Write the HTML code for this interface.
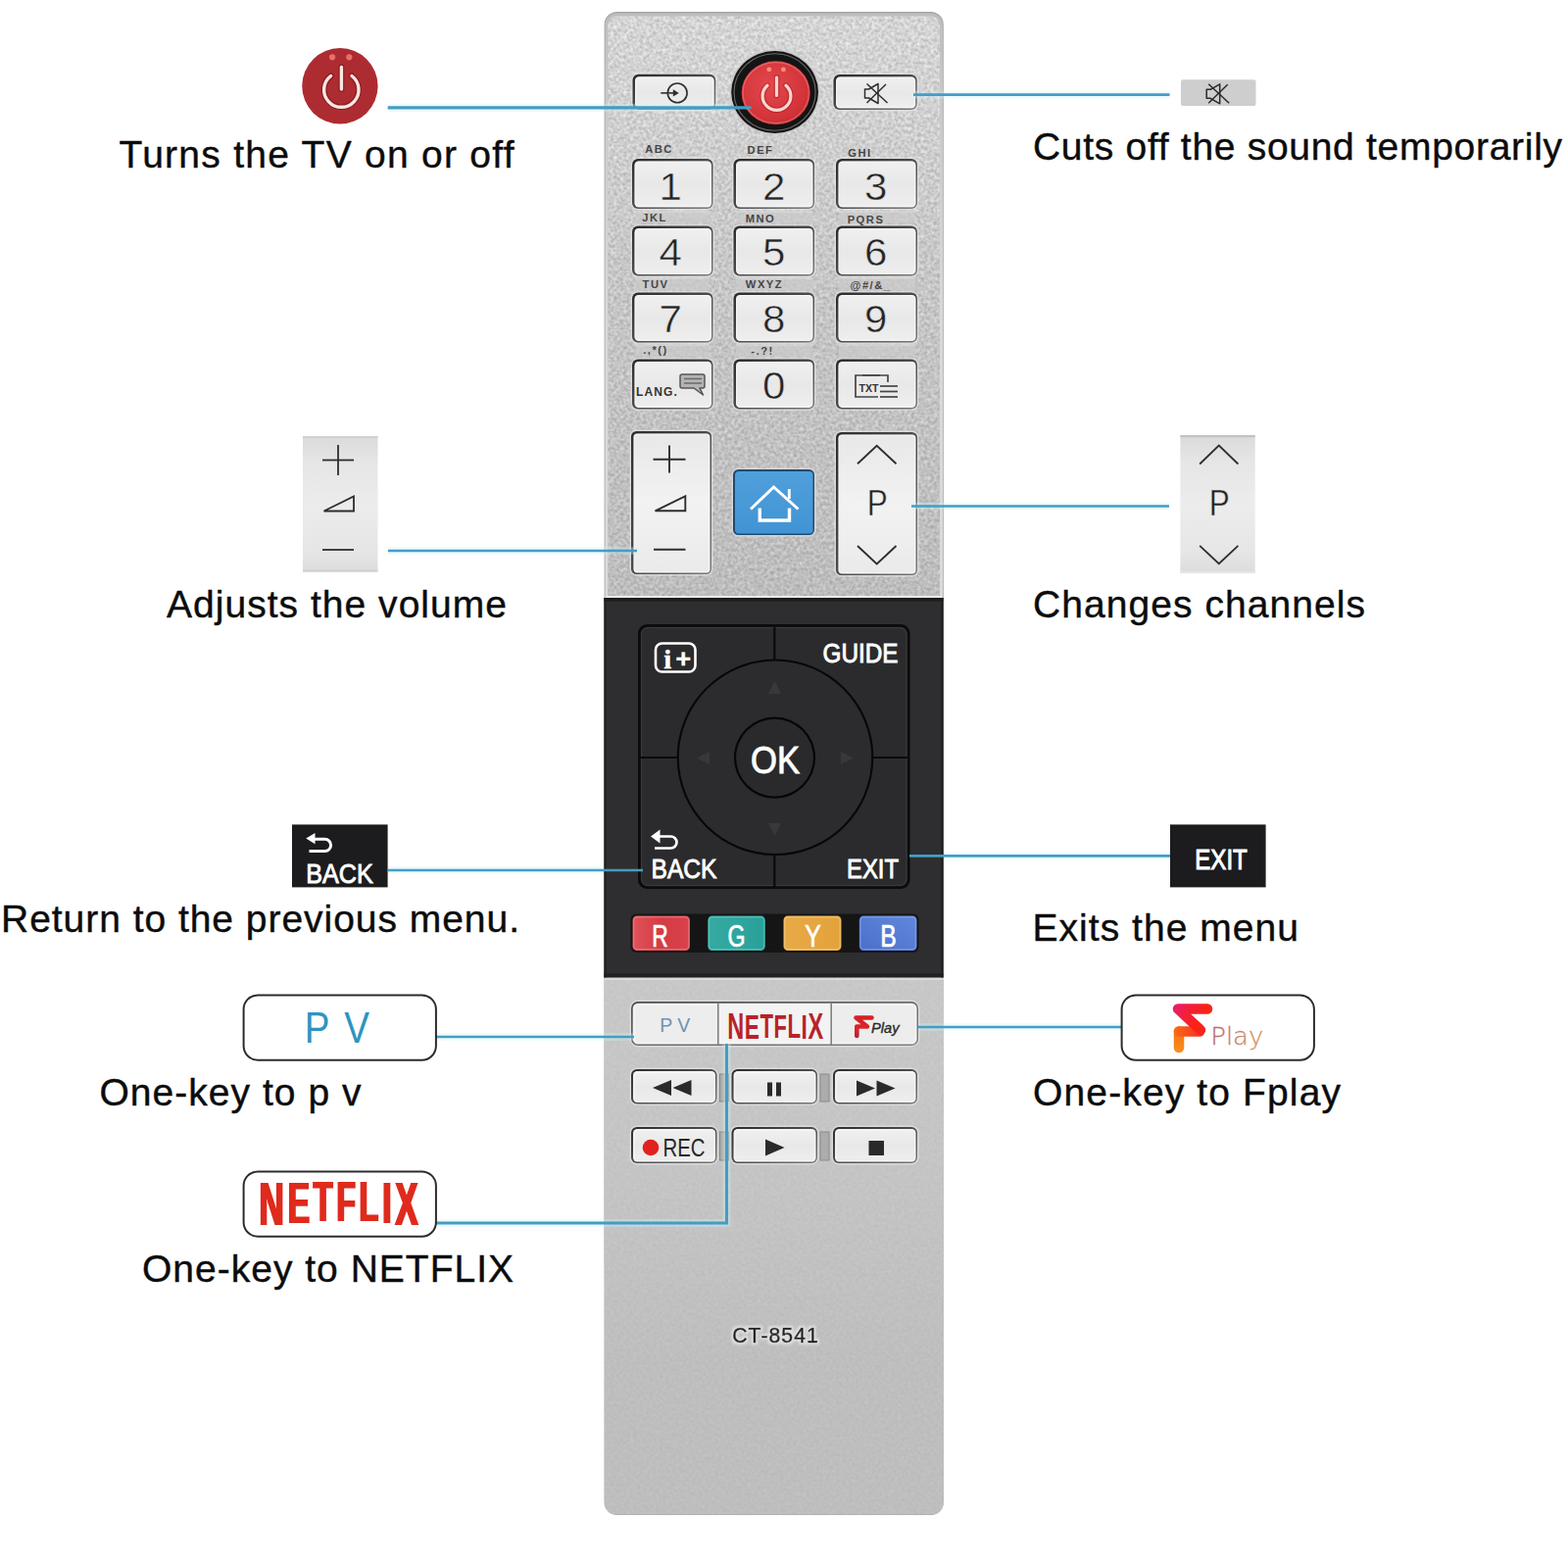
<!DOCTYPE html>
<html lang="en">
<head>
<meta charset="utf-8">
<title>CT-8541 Remote Control</title>
<style>
html,body{margin:0;padding:0;background:#fff;}
body{width:1600px;height:1600px;overflow:hidden;font-family:"Liberation Sans",sans-serif;}
svg{display:block;}
text{font-family:"Liberation Sans",sans-serif;}
.ann{font-size:39px;fill:#0c0c0c;stroke:#0c0c0c;stroke-width:0.4px;}
.ln{stroke:#469cc2;fill:none;}
.lh{stroke:#c9f4fd;fill:none;opacity:.35;}
.dig{font-size:38.8px;fill:#242424;text-anchor:middle;stroke:#eaeaea;stroke-width:0.5px;}
.sub{font-size:11.2px;font-weight:bold;fill:#454545;text-anchor:middle;letter-spacing:1.5px;}
.wht{font-weight:bold;fill:#fff;}
</style>
</head>
<body>
<svg width="1600" height="1600" viewBox="0 0 1600 1600">
<defs>
<linearGradient id="gKey" x1="0" y1="0" x2="0" y2="1">
<stop offset="0" stop-color="#f0f0f0"/><stop offset="0.5" stop-color="#e8e8e8"/><stop offset="1" stop-color="#eeeeee"/>
</linearGradient>
<linearGradient id="gKeyB" x1="0" y1="0" x2="1" y2="1">
<stop offset="0" stop-color="#2c2c2c"/><stop offset="0.5" stop-color="#4c4c4c"/><stop offset="1" stop-color="#7a7a7a"/>
</linearGradient>
<linearGradient id="gBody" x1="0" y1="0" x2="0" y2="1">
<stop offset="0" stop-color="#000" stop-opacity="0"/><stop offset="0.15" stop-color="#000" stop-opacity="0.02"/><stop offset="0.45" stop-color="#000" stop-opacity="0.07"/><stop offset="1" stop-color="#000" stop-opacity="0.115"/>
</linearGradient>
<filter id="noise" x="0" y="0" width="100%" height="100%" color-interpolation-filters="sRGB">
<feTurbulence type="fractalNoise" baseFrequency="0.3" numOctaves="2" seed="7" result="n"/>
<feColorMatrix in="n" type="matrix" values="0.32 0 0 0 0.675  0.32 0 0 0 0.675  0.32 0 0 0 0.675  0 0 0 0 1"/>
<feComposite in2="SourceGraphic" operator="in"/>
</filter>
<filter id="noiseD" x="0" y="0" width="100%" height="100%" color-interpolation-filters="sRGB">
<feTurbulence type="fractalNoise" baseFrequency="0.3" numOctaves="2" seed="21" result="n"/>
<feColorMatrix in="n" type="matrix" values="0.06 0 0 0 0.715  0.06 0 0 0 0.715  0.06 0 0 0 0.715  0 0 0 0 1"/>
<feComposite in2="SourceGraphic" operator="in"/>
</filter>
<filter id="soft" x="-5%" y="-5%" width="110%" height="110%"><feGaussianBlur stdDeviation="0.6"/></filter>

<linearGradient id="gR" x1="0" y1="0" x2="1" y2="0"><stop offset="0" stop-color="#e0525a"/><stop offset="0.5" stop-color="#d63b44"/><stop offset="1" stop-color="#d8424b"/></linearGradient>
<linearGradient id="gG" x1="0" y1="0" x2="1" y2="0"><stop offset="0" stop-color="#35aaa3"/><stop offset="1" stop-color="#28a199"/></linearGradient>
<linearGradient id="gY" x1="0" y1="0" x2="1" y2="0"><stop offset="0" stop-color="#e8aa48"/><stop offset="1" stop-color="#e3a23a"/></linearGradient>
<linearGradient id="gB" x1="0" y1="1" x2="1" y2="0"><stop offset="0" stop-color="#4a6fcb"/><stop offset="1" stop-color="#6188dc"/></linearGradient>
<filter id="fat" x="-5%" y="-10%" width="110%" height="120%"><feMorphology operator="dilate" radius="0.9 0"/></filter>
<linearGradient id="gKeyL" x1="0" y1="0" x2="1" y2="1"><stop offset="0" stop-color="#4a4a4a"/><stop offset="0.5" stop-color="#6a6a6a"/><stop offset="1" stop-color="#808080"/></linearGradient>
<linearGradient id="gEdge" x1="0" y1="0" x2="0" y2="1"><stop offset="0" stop-color="#dcdcdc" stop-opacity="0"/><stop offset="0.6" stop-color="#dcdcdc" stop-opacity="0.75"/><stop offset="1" stop-color="#dcdcdc" stop-opacity="0.8"/></linearGradient>
<filter id="glow" x="-10%" y="-40%" width="120%" height="180%"><feMorphology in="SourceAlpha" operator="dilate" radius="1.6" result="d"/><feGaussianBlur in="d" stdDeviation="0.9" result="b"/><feFlood flood-color="#e6e6e6" flood-opacity="0.8"/><feComposite in2="b" operator="in" result="g"/><feMerge><feMergeNode in="g"/><feMergeNode in="SourceGraphic"/></feMerge></filter>
<linearGradient id="gBevel" gradientUnits="userSpaceOnUse" x1="0" y1="12" x2="0" y2="620"><stop offset="0" stop-color="#bdbdbd"/><stop offset="0.15" stop-color="#c8c8c8"/><stop offset="0.5" stop-color="#d8d8d8"/><stop offset="1" stop-color="#dadada"/></linearGradient>
<linearGradient id="gLowHi" x1="0" y1="0" x2="0" y2="1"><stop offset="0" stop-color="#fff" stop-opacity="0.15"/><stop offset="0.5" stop-color="#fff" stop-opacity="0.1"/><stop offset="1" stop-color="#fff" stop-opacity="0"/></linearGradient>
<linearGradient id="gKeyT" x1="0" y1="0" x2="0" y2="1"><stop offset="0" stop-color="#e8e8e8"/><stop offset="0.5" stop-color="#f2f2f2"/><stop offset="1" stop-color="#eaeaea"/></linearGradient>
<radialGradient id="gPow" cx="0.42" cy="0.4" r="0.75"><stop offset="0" stop-color="#e3484c"/><stop offset="0.7" stop-color="#d23339"/><stop offset="1" stop-color="#b82228"/></radialGradient>
<linearGradient id="gHome" x1="0" y1="0" x2="0" y2="1"><stop offset="0" stop-color="#4f9fdb"/><stop offset="1" stop-color="#4194d4"/></linearGradient>
<linearGradient id="gIcon" x1="0" y1="0" x2="0" y2="1"><stop offset="0" stop-color="#dadada"/><stop offset="0.2" stop-color="#e6e6e6"/><stop offset="0.5" stop-color="#ececec"/><stop offset="0.85" stop-color="#e6e6e6"/><stop offset="1" stop-color="#dcdcdc"/></linearGradient>
<linearGradient id="gFs" gradientUnits="userSpaceOnUse" x1="880" y1="1036" x2="880" y2="1060"><stop offset="0" stop-color="#d81e22"/><stop offset="0.6" stop-color="#d8262c"/><stop offset="1" stop-color="#b01d3a"/></linearGradient>
<linearGradient id="gF1" gradientUnits="userSpaceOnUse" x1="1197" y1="1024" x2="1237" y2="1050"><stop offset="0" stop-color="#e81e78"/><stop offset="0.35" stop-color="#f2203a"/><stop offset="0.7" stop-color="#fb2312"/><stop offset="1" stop-color="#f2272c"/></linearGradient>
<linearGradient id="gF2" gradientUnits="userSpaceOnUse" x1="1203" y1="1047" x2="1203" y2="1075"><stop offset="0" stop-color="#fb6a12"/><stop offset="1" stop-color="#f6921e"/></linearGradient>
<linearGradient id="gF3" gradientUnits="userSpaceOnUse" x1="1198" y1="1052" x2="1230" y2="1052"><stop offset="0" stop-color="#fb6a12"/><stop offset="1" stop-color="#f2272c"/></linearGradient>
<linearGradient id="gPlay" gradientUnits="userSpaceOnUse" x1="1236" y1="1050" x2="1290" y2="1070"><stop offset="0" stop-color="#b96a72"/><stop offset="1" stop-color="#d9a066"/></linearGradient>
</defs>
<rect width="1600" height="1600" fill="#ffffff"/>

<g id="remote-body">
<rect x="616.6" y="12" width="346.2" height="1534" rx="13" fill="#a6a6a6"/>
<rect x="617.4" y="13.4" width="344.6" height="1531.4" rx="12" fill="url(#gBevel)"/>
<rect x="620.3" y="16.5" width="338.7" height="600" rx="9" fill="#d3d3d3" filter="url(#noise)"/>
<rect x="620.3" y="16.5" width="338.7" height="600" rx="9" fill="url(#gBody)"/>
<rect x="616.8" y="990" width="346" height="300" fill="#bebebe"/>
<rect x="616.8" y="990" width="346" height="555.5" rx="12" fill="#bebebe" filter="url(#noiseD)"/>
<rect x="616.8" y="990" width="346" height="300" fill="#bebebe" filter="url(#noiseD)"/>
<rect x="616.8" y="997" width="346" height="400" fill="url(#gLowHi)"/>
<rect x="616.8" y="997.5" width="346" height="2.5" fill="#dadada"/>
</g>

<g id="keys">
<rect x="648" y="215.5" width="76" height="13" fill="#cbcbcb" opacity="0.7"/><rect x="648" y="215.5" width="76" height="1" fill="#e2e2e2" opacity="0.8"/><rect x="648" y="283.5" width="76" height="13" fill="#cbcbcb" opacity="0.7"/><rect x="648" y="283.5" width="76" height="1" fill="#e2e2e2" opacity="0.8"/><rect x="648" y="351.5" width="76" height="13" fill="#cbcbcb" opacity="0.7"/><rect x="648" y="351.5" width="76" height="1" fill="#e2e2e2" opacity="0.8"/><rect x="751" y="215.5" width="78" height="13" fill="#cbcbcb" opacity="0.7"/><rect x="751" y="215.5" width="78" height="1" fill="#e2e2e2" opacity="0.8"/><rect x="751" y="283.5" width="78" height="13" fill="#cbcbcb" opacity="0.7"/><rect x="751" y="283.5" width="78" height="1" fill="#e2e2e2" opacity="0.8"/><rect x="751" y="351.5" width="78" height="13" fill="#cbcbcb" opacity="0.7"/><rect x="751" y="351.5" width="78" height="1" fill="#e2e2e2" opacity="0.8"/><rect x="856" y="215.5" width="78" height="13" fill="#cbcbcb" opacity="0.7"/><rect x="856" y="215.5" width="78" height="1" fill="#e2e2e2" opacity="0.8"/><rect x="856" y="283.5" width="78" height="13" fill="#cbcbcb" opacity="0.7"/><rect x="856" y="283.5" width="78" height="1" fill="#e2e2e2" opacity="0.8"/><rect x="856" y="351.5" width="78" height="13" fill="#cbcbcb" opacity="0.7"/><rect x="856" y="351.5" width="78" height="1" fill="#e2e2e2" opacity="0.8"/>
<rect x="644.0" y="74.3" width="87.7" height="39" rx="7.5" fill="#e4e4e4" opacity="0.7"/><rect x="645.5" y="75.8" width="84.7" height="36" rx="6" fill="url(#gKeyB)"/><rect x="648.0" y="78.3" width="80.7" height="32.0" rx="4.2" fill="url(#gKey)"/><rect x="648.7" y="79.0" width="79.0" height="30.3" rx="3.5" fill="none" stroke="#ffffff" stroke-opacity="0.5" stroke-width="1.2"/>
<rect x="849.0" y="74.5" width="88.2" height="39" rx="7.5" fill="#e4e4e4" opacity="0.7"/><rect x="850.5" y="76" width="85.2" height="36" rx="6" fill="url(#gKeyB)"/><rect x="853.0" y="78.5" width="81.2" height="32.0" rx="4.2" fill="url(#gKey)"/><rect x="853.7" y="79.2" width="79.5" height="30.3" rx="3.5" fill="none" stroke="#ffffff" stroke-opacity="0.5" stroke-width="1.2"/>
<g stroke="#2e2e2e" stroke-width="1.6" fill="none"><circle cx="691.2" cy="94.9" r="9.9"/><line x1="674.3" y1="94.9" x2="689" y2="94.9"/><path d="M686.8 91.2 L692.8 94.9 L686.8 98.6 Z" fill="#2e2e2e" stroke="none"/></g>
<g stroke="#2e2e2e" stroke-width="1.5" fill="none" stroke-linejoin="round"><path d="M882.5 91 h4 l9.5 -5.5 v20 l-9.5 -5.5 h-4 z"/><line x1="884.5" y1="85.5" x2="905.5" y2="105"/><line x1="904" y1="86" x2="884.5" y2="105"/></g>
<g id="power-key"><ellipse cx="790.6" cy="94" rx="46" ry="43.6" fill="#c8c8c8"/><ellipse cx="790.6" cy="94" rx="44.4" ry="42" fill="#141414"/><ellipse cx="790.6" cy="94" rx="41.6" ry="39.2" fill="none" stroke="#6a6a6a" stroke-width="1.1"/><ellipse cx="791.7" cy="94.7" rx="35.1" ry="32.5" fill="url(#gPow)"/><ellipse cx="791.7" cy="94.7" rx="33.6" ry="31" fill="none" stroke="#f08a86" stroke-width="1.2" opacity="0.55"/>
<circle cx="784.8" cy="70.9" r="2.4" fill="#ff8a7c"/><circle cx="799.4" cy="70.9" r="2.4" fill="#ff8a7c"/>
<path d="M783 87.2 A14.4 14.4 0 1 0 802 87.2" fill="none" stroke="#a01a20" stroke-width="5.8" stroke-linecap="round" opacity="0.45"/><line x1="792.5" y1="79" x2="792.5" y2="97.5" stroke="#a01a20" stroke-width="5.8" stroke-linecap="round" opacity="0.45"/>
<path d="M783 87.2 A14.4 14.4 0 1 0 802 87.2" fill="none" stroke="#ffd6d0" stroke-width="3.2" stroke-linecap="round"/><line x1="792.5" y1="79" x2="792.5" y2="97.5" stroke="#ffd6d0" stroke-width="3.2" stroke-linecap="round"/></g>
<rect x="643.5" y="160.5" width="85.5" height="54" rx="7.5" fill="#e4e4e4" opacity="0.7"/><rect x="645" y="162" width="82.5" height="51" rx="6" fill="url(#gKeyB)"/><rect x="647.5" y="164.5" width="78.5" height="47.0" rx="4.2" fill="url(#gKey)"/><rect x="648.2" y="165.2" width="76.8" height="45.3" rx="3.5" fill="none" stroke="#ffffff" stroke-opacity="0.5" stroke-width="1.2"/>
<text class="dig" x="684.3" y="203.9" textLength="23.4" lengthAdjust="spacingAndGlyphs">1</text>
<rect x="747.0" y="160.5" width="85.5" height="54" rx="7.5" fill="#e4e4e4" opacity="0.7"/><rect x="748.5" y="162" width="82.5" height="51" rx="6" fill="url(#gKeyB)"/><rect x="751.0" y="164.5" width="78.5" height="47.0" rx="4.2" fill="url(#gKey)"/><rect x="751.7" y="165.2" width="76.8" height="45.3" rx="3.5" fill="none" stroke="#ffffff" stroke-opacity="0.5" stroke-width="1.2"/>
<text class="dig" x="789.7" y="203.9" textLength="23.4" lengthAdjust="spacingAndGlyphs">2</text>
<rect x="851.5" y="160.5" width="86" height="54" rx="7.5" fill="#e4e4e4" opacity="0.7"/><rect x="853" y="162" width="83" height="51" rx="6" fill="url(#gKeyB)"/><rect x="855.5" y="164.5" width="79.0" height="47.0" rx="4.2" fill="url(#gKey)"/><rect x="856.2" y="165.2" width="77.3" height="45.3" rx="3.5" fill="none" stroke="#ffffff" stroke-opacity="0.5" stroke-width="1.2"/>
<text class="dig" x="893.8" y="203.9" textLength="23.4" lengthAdjust="spacingAndGlyphs">3</text>
<rect x="643.5" y="229.0" width="85.5" height="54" rx="7.5" fill="#e4e4e4" opacity="0.7"/><rect x="645" y="230.5" width="82.5" height="51" rx="6" fill="url(#gKeyB)"/><rect x="647.5" y="233.0" width="78.5" height="47.0" rx="4.2" fill="url(#gKey)"/><rect x="648.2" y="233.7" width="76.8" height="45.3" rx="3.5" fill="none" stroke="#ffffff" stroke-opacity="0.5" stroke-width="1.2"/>
<text class="dig" x="684.3" y="271.4" textLength="23.4" lengthAdjust="spacingAndGlyphs">4</text>
<rect x="747.0" y="229.0" width="85.5" height="54" rx="7.5" fill="#e4e4e4" opacity="0.7"/><rect x="748.5" y="230.5" width="82.5" height="51" rx="6" fill="url(#gKeyB)"/><rect x="751.0" y="233.0" width="78.5" height="47.0" rx="4.2" fill="url(#gKey)"/><rect x="751.7" y="233.7" width="76.8" height="45.3" rx="3.5" fill="none" stroke="#ffffff" stroke-opacity="0.5" stroke-width="1.2"/>
<text class="dig" x="789.7" y="271.4" textLength="23.4" lengthAdjust="spacingAndGlyphs">5</text>
<rect x="851.5" y="229.0" width="86" height="54" rx="7.5" fill="#e4e4e4" opacity="0.7"/><rect x="853" y="230.5" width="83" height="51" rx="6" fill="url(#gKeyB)"/><rect x="855.5" y="233.0" width="79.0" height="47.0" rx="4.2" fill="url(#gKey)"/><rect x="856.2" y="233.7" width="77.3" height="45.3" rx="3.5" fill="none" stroke="#ffffff" stroke-opacity="0.5" stroke-width="1.2"/>
<text class="dig" x="893.8" y="271.4" textLength="23.4" lengthAdjust="spacingAndGlyphs">6</text>
<rect x="643.5" y="297.0" width="85.5" height="54" rx="7.5" fill="#e4e4e4" opacity="0.7"/><rect x="645" y="298.5" width="82.5" height="51" rx="6" fill="url(#gKeyB)"/><rect x="647.5" y="301.0" width="78.5" height="47.0" rx="4.2" fill="url(#gKey)"/><rect x="648.2" y="301.7" width="76.8" height="45.3" rx="3.5" fill="none" stroke="#ffffff" stroke-opacity="0.5" stroke-width="1.2"/>
<text class="dig" x="684.3" y="338.6" textLength="23.4" lengthAdjust="spacingAndGlyphs">7</text>
<rect x="747.0" y="297.0" width="85.5" height="54" rx="7.5" fill="#e4e4e4" opacity="0.7"/><rect x="748.5" y="298.5" width="82.5" height="51" rx="6" fill="url(#gKeyB)"/><rect x="751.0" y="301.0" width="78.5" height="47.0" rx="4.2" fill="url(#gKey)"/><rect x="751.7" y="301.7" width="76.8" height="45.3" rx="3.5" fill="none" stroke="#ffffff" stroke-opacity="0.5" stroke-width="1.2"/>
<text class="dig" x="789.7" y="338.6" textLength="23.4" lengthAdjust="spacingAndGlyphs">8</text>
<rect x="851.5" y="297.0" width="86" height="54" rx="7.5" fill="#e4e4e4" opacity="0.7"/><rect x="853" y="298.5" width="83" height="51" rx="6" fill="url(#gKeyB)"/><rect x="855.5" y="301.0" width="79.0" height="47.0" rx="4.2" fill="url(#gKey)"/><rect x="856.2" y="301.7" width="77.3" height="45.3" rx="3.5" fill="none" stroke="#ffffff" stroke-opacity="0.5" stroke-width="1.2"/>
<text class="dig" x="893.8" y="338.6" textLength="23.4" lengthAdjust="spacingAndGlyphs">9</text>
<rect x="643.5" y="365.0" width="85.5" height="54" rx="7.5" fill="#e4e4e4" opacity="0.7"/><rect x="645" y="366.5" width="82.5" height="51" rx="6" fill="url(#gKeyB)"/><rect x="647.5" y="369.0" width="78.5" height="47.0" rx="4.2" fill="url(#gKey)"/><rect x="648.2" y="369.7" width="76.8" height="45.3" rx="3.5" fill="none" stroke="#ffffff" stroke-opacity="0.5" stroke-width="1.2"/>
<rect x="747.0" y="365.0" width="85.5" height="54" rx="7.5" fill="#e4e4e4" opacity="0.7"/><rect x="748.5" y="366.5" width="82.5" height="51" rx="6" fill="url(#gKeyB)"/><rect x="751.0" y="369.0" width="78.5" height="47.0" rx="4.2" fill="url(#gKey)"/><rect x="751.7" y="369.7" width="76.8" height="45.3" rx="3.5" fill="none" stroke="#ffffff" stroke-opacity="0.5" stroke-width="1.2"/>
<text class="dig" x="789.7" y="407.4" textLength="23.4" lengthAdjust="spacingAndGlyphs">0</text>
<rect x="851.5" y="365.0" width="86" height="54" rx="7.5" fill="#e4e4e4" opacity="0.7"/><rect x="853" y="366.5" width="83" height="51" rx="6" fill="url(#gKeyB)"/><rect x="855.5" y="369.0" width="79.0" height="47.0" rx="4.2" fill="url(#gKey)"/><rect x="856.2" y="369.7" width="77.3" height="45.3" rx="3.5" fill="none" stroke="#ffffff" stroke-opacity="0.5" stroke-width="1.2"/>
<text class="sub" x="672.5" y="156">ABC</text>
<text class="sub" x="776" y="157">DEF</text>
<text class="sub" x="877.5" y="159.5">GHI</text>
<text class="sub" x="668" y="226">JKL</text>
<text class="sub" x="776" y="226.5">MNO</text>
<text class="sub" x="883.5" y="227.5">PQRS</text>
<text class="sub" x="669" y="293.5">TUV</text>
<text class="sub" x="780" y="294">WXYZ</text>
<text class="sub" x="888.5" y="295">@#/&amp;_</text>
<text class="sub" x="669" y="361">.,*()</text>
<text class="sub" x="778" y="361.5">-.?!</text>
<text x="649" y="403.5" font-size="12" font-weight="bold" fill="#333" letter-spacing="1.1">LANG.</text>
<g stroke="#555" stroke-width="1.5" fill="#b4b4b4" stroke-linejoin="round"><path d="M696 382 h21 q2 0 2 2 v10 q0 2 -2 2 h-3 l3.5 7 l-9.5 -7 h-12 q-2 0 -2 -2 v-10 q0 -2 2 -2 z"/><line x1="698" y1="386.5" x2="716" y2="386.5" stroke="#6a6a6a"/><line x1="698" y1="391" x2="716" y2="391" stroke="#6a6a6a"/></g>
<g stroke="#444" stroke-width="1.7" fill="none"><path d="M898 383 H873 V405 H896"/><path d="M880 383 H906 V390"/><line x1="898" y1="394" x2="916" y2="394"/><line x1="898" y1="399.5" x2="916" y2="399.5"/><line x1="898" y1="405" x2="916" y2="405"/></g>
<text x="876.5" y="399.5" font-size="10.5" font-weight="bold" fill="#333" textLength="20" lengthAdjust="spacingAndGlyphs">TXT</text>
<rect x="642.5" y="438.5" width="85" height="149" rx="7.0" fill="#e4e4e4" opacity="0.7"/><rect x="644" y="440" width="82" height="146" rx="5.5" fill="url(#gKeyB)"/><rect x="646.5" y="442.5" width="78.0" height="142.0" rx="3.7" fill="url(#gKeyT)"/><rect x="647.2" y="443.2" width="76.3" height="140.3" rx="3.0" fill="none" stroke="#ffffff" stroke-opacity="0.5" stroke-width="1.2"/>
<g stroke="#2e2e2e" stroke-width="1.9" fill="none"><line x1="666.5" y1="468.7" x2="699.5" y2="468.7"/><line x1="683" y1="454.5" x2="683" y2="482.5"/><path d="M668.5 521.3 L699.3 506.3 L699.3 521.3 Z"/><line x1="667" y1="560.7" x2="699.5" y2="560.7"/></g>
<rect x="851.5" y="439.5" width="86" height="149" rx="7.0" fill="#e4e4e4" opacity="0.7"/><rect x="853" y="441" width="83" height="146" rx="5.5" fill="url(#gKeyB)"/><rect x="855.5" y="443.5" width="79.0" height="142.0" rx="3.7" fill="url(#gKeyT)"/><rect x="856.2" y="444.2" width="77.3" height="140.3" rx="3.0" fill="none" stroke="#ffffff" stroke-opacity="0.5" stroke-width="1.2"/>
<g stroke="#2e2e2e" stroke-width="1.9" fill="none"><path d="M875 473.3 L894.7 454.8 L914.5 473.3"/><path d="M875 557 L894.7 575.5 L914.5 557"/></g>
<text x="895.3" y="525.8" font-size="37.5" fill="#222" text-anchor="middle" textLength="21" lengthAdjust="spacingAndGlyphs" stroke="#e9e9e9" stroke-width="0.5">P</text>
<rect x="746.5" y="477.5" width="86" height="70" rx="7" fill="#dcdcdc" opacity="0.8"/><rect x="748" y="479" width="83" height="67" rx="5.5" fill="#1f4a73"/><rect x="750" y="481" width="79.5" height="63.5" rx="4" fill="url(#gHome)"/>
<g stroke="#ffffff" stroke-width="2.9" fill="none" stroke-linejoin="miter"><path d="M766 519.5 L789.5 497 L814.5 519.5"/><path d="M775.3 518.5 V531 H805.5 V518.5" stroke-width="3.4"/><path d="M805.3 509 V499"/></g>
</g>


<g id="black">
<rect x="618" y="608" width="343" height="2.5" fill="#e9e9e9"/>
<rect x="616.5" y="610" width="346" height="387" fill="#2e2e30"/>
<rect x="616.5" y="610" width="346" height="3.5" fill="#1c1c1c"/>
<rect x="616.5" y="993.5" width="346" height="4" fill="#202020"/>
<rect x="616.5" y="610" width="2" height="387.5" fill="#1e1e1e"/><rect x="960.5" y="610" width="2" height="387.5" fill="#1e1e1e"/>
<rect x="651" y="637" width="277.5" height="270" rx="9" fill="#0b0b0b"/>
<rect x="653.8" y="639.8" width="272" height="264.5" rx="7" fill="#2b2b2d"/>
<rect x="654.6" y="640.6" width="270.4" height="263" rx="6.5" fill="none" stroke="#4a4a4a" stroke-width="1" opacity="0.6"/>
<g stroke="#0a0a0a" stroke-width="2.2"><line x1="790.3" y1="640" x2="790.3" y2="680"/><line x1="790.3" y1="868" x2="790.3" y2="905"/><line x1="653" y1="773" x2="692" y2="773"/><line x1="888" y1="773" x2="926" y2="773"/></g>
<circle cx="791" cy="772.8" r="100.3" fill="#070707"/>
<circle cx="791" cy="772.8" r="98.2" fill="#2c2c2e"/>
<circle cx="790.5" cy="773.2" r="41.6" fill="#060606"/>
<circle cx="790.5" cy="773.2" r="39.4" fill="#2a2a2c"/>
<g fill="#38383a"><path d="M784 708 L790.5 695 L797 708 Z"/><path d="M784 840 L790.5 853 L797 840 Z"/><path d="M724 767 L711 773.5 L724 780 Z"/><path d="M858 767 L871 773.5 L858 780 Z"/></g>
<text class="wht" x="791" y="789" font-size="38" text-anchor="middle" textLength="50" lengthAdjust="spacingAndGlyphs" style="font-weight:normal;stroke:#fff;stroke-width:0.9px">OK</text>
<text class="wht" x="839.5" y="676" font-size="27.5" textLength="77" lengthAdjust="spacingAndGlyphs" style="font-weight:normal;stroke:#fff;stroke-width:0.9px">GUIDE</text>
<text class="wht" x="664.5" y="896" font-size="28.5" textLength="67" lengthAdjust="spacingAndGlyphs" style="font-weight:normal;stroke:#fff;stroke-width:0.9px">BACK</text>
<text class="wht" x="864" y="896" font-size="28.5" textLength="53" lengthAdjust="spacingAndGlyphs" style="font-weight:normal;stroke:#fff;stroke-width:0.9px">EXIT</text>
<g stroke="#fff" stroke-width="2.7" fill="none"><path d="M670 853.5 H684.5 a6 6 0 0 1 0 12 H668"/></g><path d="M664 853.5 L673.5 846.5 V860.5 Z" fill="#fff"/>
<rect x="669" y="656.5" width="40.5" height="29" rx="6.5" fill="none" stroke="#fff" stroke-width="2.6"/>
<text class="wht" x="677.5" y="681.5" font-size="27" style="font-family:'Liberation Serif',serif;stroke:#fff;stroke-width:0.6px">i</text>
<text class="wht" x="689.5" y="680.5" font-size="25" textLength="15.5" lengthAdjust="spacingAndGlyphs" style="stroke:#fff;stroke-width:0.5px">+</text>
<rect x="643.5" y="932.5" width="294" height="39.5" rx="6" fill="#151515"/>
<rect x="645.5" y="934.5" width="58.5" height="35.5" rx="4.5" fill="url(#gR)"/><rect x="646.7" y="935.7" width="56.1" height="33.1" rx="3.6" fill="none" stroke="#ef8d92" stroke-opacity="0.55" stroke-width="1.4"/><text class="wht" x="673.4" y="966.3" font-size="30.5" text-anchor="middle" textLength="16.5" lengthAdjust="spacingAndGlyphs" style="font-weight:normal;stroke:#fff;stroke-width:0.7px">R</text>
<rect x="722.3" y="934.5" width="58.5" height="35.5" rx="4.5" fill="url(#gG)"/><rect x="723.5" y="935.7" width="56.1" height="33.1" rx="3.6" fill="none" stroke="#6fd0c8" stroke-opacity="0.55" stroke-width="1.4"/><text class="wht" x="751.6" y="966.3" font-size="30.5" text-anchor="middle" textLength="18" lengthAdjust="spacingAndGlyphs" style="font-weight:normal;stroke:#fff;stroke-width:0.7px">G</text>
<rect x="799.5" y="934.5" width="59" height="35.5" rx="4.5" fill="url(#gY)"/><rect x="800.7" y="935.7" width="56.6" height="33.1" rx="3.6" fill="none" stroke="#f6d08a" stroke-opacity="0.55" stroke-width="1.4"/><text class="wht" x="829.5" y="966.3" font-size="30.5" text-anchor="middle" textLength="16.5" lengthAdjust="spacingAndGlyphs" style="font-weight:normal;stroke:#fff;stroke-width:0.7px">Y</text>
<rect x="876.8" y="934.5" width="58.7" height="35.5" rx="4.5" fill="url(#gB)"/><rect x="878.0" y="935.7" width="56.300000000000004" height="33.1" rx="3.6" fill="none" stroke="#8eaaee" stroke-opacity="0.55" stroke-width="1.4"/><text class="wht" x="906.4" y="966.3" font-size="30.5" text-anchor="middle" textLength="16.5" lengthAdjust="spacingAndGlyphs" style="font-weight:normal;stroke:#fff;stroke-width:0.7px">B</text>
</g>

<g id="lower">
<rect x="642.5" y="1020.5" width="296" height="48" rx="8.5" fill="#e4e4e4" opacity="0.7"/><rect x="644" y="1022" width="293" height="45" rx="7" fill="url(#gKeyL)"/><rect x="645.7" y="1023.7" width="289.8" height="41.8" rx="5.2" fill="#ededed"/><rect x="647.2" y="1025.2" width="287.3" height="39.3" rx="4.5" fill="none" stroke="#ffffff" stroke-opacity="0.5" stroke-width="1.2"/>
<rect x="733.5" y="1025" width="114" height="39.5" fill="#f3f3f3"/><line x1="732.8" y1="1024" x2="732.8" y2="1066" stroke="#7a7a7a" stroke-width="1.5"/><line x1="848.2" y1="1024" x2="848.2" y2="1066" stroke="#7a7a7a" stroke-width="1.5"/>
<text x="673.2 684 691.2" y="1052.5" font-size="19.5" fill="#6f93b6">P V</text>
<text transform="translate(742.3 1035.3) scale(0.645 1)" font-weight="bold" fill="#b9222a" letter-spacing="0.8"><tspan font-size="36.5" dy="25.11">N</tspan><tspan font-size="35.3" dy="-0.82">E</tspan><tspan font-size="34.4" dy="-0.60">T</tspan><tspan font-size="34.0" dy="-0.30">F</tspan><tspan font-size="34.4" dy="0.30">L</tspan><tspan font-size="35.3" dy="0.60">I</tspan><tspan font-size="36.5" dy="0.82">X</tspan></text>
<g stroke="url(#gFs)" stroke-width="4.6" stroke-linecap="round" stroke-linejoin="round" fill="none"><path d="M889.5 1038.5 H873.5 L885 1047.5 H874.3 V1057"/></g>
<text x="889" y="1054" font-size="14" font-style="italic" fill="#2a2a2a" stroke="#2a2a2a" stroke-width="0.35" textLength="28.5" lengthAdjust="spacingAndGlyphs">Play</text>
<rect x="642.5" y="1089.5" width="90.5" height="38.5" rx="7.5" fill="#e4e4e4" opacity="0.7"/><rect x="644" y="1091" width="87.5" height="35.5" rx="6" fill="url(#gKeyB)"/><rect x="646" y="1093" width="84.0" height="32.0" rx="4.2" fill="url(#gKey)"/><rect x="647.2" y="1094.2" width="81.8" height="29.8" rx="3.5" fill="none" stroke="#ffffff" stroke-opacity="0.5" stroke-width="1.2"/>
<rect x="745.0" y="1089.5" width="90.5" height="38.5" rx="7.5" fill="#e4e4e4" opacity="0.7"/><rect x="746.5" y="1091" width="87.5" height="35.5" rx="6" fill="url(#gKeyB)"/><rect x="748.5" y="1093" width="84.0" height="32.0" rx="4.2" fill="url(#gKey)"/><rect x="749.7" y="1094.2" width="81.8" height="29.8" rx="3.5" fill="none" stroke="#ffffff" stroke-opacity="0.5" stroke-width="1.2"/>
<rect x="848.5" y="1089.5" width="89" height="38.5" rx="7.5" fill="#e4e4e4" opacity="0.7"/><rect x="850" y="1091" width="86" height="35.5" rx="6" fill="url(#gKeyB)"/><rect x="852" y="1093" width="82.5" height="32.0" rx="4.2" fill="url(#gKey)"/><rect x="853.2" y="1094.2" width="80.3" height="29.8" rx="3.5" fill="none" stroke="#ffffff" stroke-opacity="0.5" stroke-width="1.2"/>
<rect x="642.5" y="1148.5" width="90.5" height="40" rx="7.5" fill="#e4e4e4" opacity="0.7"/><rect x="644" y="1150" width="87.5" height="37" rx="6" fill="url(#gKeyB)"/><rect x="646" y="1152" width="84.0" height="33.5" rx="4.2" fill="url(#gKey)"/><rect x="647.2" y="1153.2" width="81.8" height="31.3" rx="3.5" fill="none" stroke="#ffffff" stroke-opacity="0.5" stroke-width="1.2"/>
<rect x="745.0" y="1148.5" width="90.5" height="40" rx="7.5" fill="#e4e4e4" opacity="0.7"/><rect x="746.5" y="1150" width="87.5" height="37" rx="6" fill="url(#gKeyB)"/><rect x="748.5" y="1152" width="84.0" height="33.5" rx="4.2" fill="url(#gKey)"/><rect x="749.7" y="1153.2" width="81.8" height="31.3" rx="3.5" fill="none" stroke="#ffffff" stroke-opacity="0.5" stroke-width="1.2"/>
<rect x="848.5" y="1148.5" width="89" height="40" rx="7.5" fill="#e4e4e4" opacity="0.7"/><rect x="850" y="1150" width="86" height="37" rx="6" fill="url(#gKeyB)"/><rect x="852" y="1152" width="82.5" height="33.5" rx="4.2" fill="url(#gKey)"/><rect x="853.2" y="1153.2" width="80.3" height="31.3" rx="3.5" fill="none" stroke="#ffffff" stroke-opacity="0.5" stroke-width="1.2"/>
<g fill="#acacac" stroke="#8a8a8a" stroke-width="1"><rect x="837" y="1096" width="9" height="28"/><rect x="837" y="1155" width="9" height="29"/><rect x="734.5" y="1096" width="9" height="28"/><rect x="734.5" y="1155" width="9" height="29"/></g>
<g fill="#2a2a2a">
<path d="M666 1110 L685 1102 V1118 Z"/><path d="M686.5 1110 L705.5 1102 V1118 Z"/>
<rect x="783" y="1104.5" width="5" height="14"/><rect x="792" y="1104.5" width="5" height="14"/>
<path d="M874 1102.5 L893 1110.5 L874 1118.5 Z"/><path d="M894.5 1102.5 L913.5 1110.5 L894.5 1118.5 Z"/>
<path d="M781 1162.5 L800.5 1171 L781 1179.5 Z"/>
<rect x="886.5" y="1164" width="15.5" height="15"/>
</g>
<circle cx="664" cy="1171" r="8.3" fill="#e1211d"/>
<text x="676.5" y="1180" font-size="25.5" fill="#262626" textLength="43" lengthAdjust="spacingAndGlyphs">REC</text>
<text x="791" y="1369.8" font-size="21.2" fill="#1b1b1b" text-anchor="middle" textLength="87.5" lengthAdjust="spacing" stroke="#1b1b1b" stroke-width="0.6" filter="url(#glow)">CT-8541</text>
</g>

<g id="annotations">
<path class="lh" d="M395.7 109.8 H744" stroke-width="8.2"/><path class="ln" d="M395.7 109.8 H766.5" stroke-width="3.2"/>
<path class="lh" d="M396 562 H650" stroke-width="7.7"/><path class="ln" d="M396 562 H650" stroke-width="2.7"/>
<path class="lh" d="M396 888 H616" stroke-width="7.7"/><path class="ln" d="M396 888 H656" stroke-width="2.7"/>
<path class="lh" d="M445 1058 H647" stroke-width="7.5"/><path class="ln" d="M445 1058 H647" stroke-width="2.5"/>
<path class="lh" d="M445 1248 H741.5 V1065" stroke-width="8"/><path class="ln" d="M445 1248 H741.5 V1065" stroke-width="3"/>
<path class="lh" d="M932 96.7 H1193.5" stroke-width="7.7"/><path class="ln" d="M932 96.7 H1193.5" stroke-width="2.7"/>
<path class="lh" d="M930 516.5 H1193" stroke-width="7.3"/><path class="ln" d="M930 516.5 H1193" stroke-width="2.3"/>
<path class="lh" d="M963 873.3 H1194" stroke-width="7.7"/><path class="ln" d="M928 873.3 H1194" stroke-width="2.7"/>
<path class="lh" d="M937 1048 H1144" stroke-width="7.7"/><path class="ln" d="M937 1048 H1144" stroke-width="2.7"/>
<text class="ann" x="121.5" y="171" textLength="403" lengthAdjust="spacing">Turns the TV on or off</text>
<text class="ann" x="170" y="630" textLength="347" lengthAdjust="spacing">Adjusts the volume</text>
<text class="ann" x="1" y="951" textLength="529" lengthAdjust="spacing">Return to the previous menu.</text>
<text class="ann" x="101.5" y="1128" textLength="267" lengthAdjust="spacing">One-key to p v</text>
<text class="ann" x="145" y="1308" textLength="379" lengthAdjust="spacing">One-key to NETFLIX</text>
<text class="ann" x="1054" y="163" textLength="540" lengthAdjust="spacing">Cuts off the sound temporarily</text>
<text class="ann" x="1054" y="630" textLength="339" lengthAdjust="spacing">Changes channels</text>
<text class="ann" x="1053.5" y="959.5" textLength="271.5" lengthAdjust="spacing">Exits the menu</text>
<text class="ann" x="1054" y="1128" textLength="314" lengthAdjust="spacing">One-key to Fplay</text>
<g id="icon-power"><circle cx="346.9" cy="87.8" r="38.7" fill="#ad2c31"/>
<circle cx="339.1" cy="58.3" r="3.1" fill="#e9706a"/><circle cx="356.3" cy="58.3" r="3.1" fill="#e9706a"/>
<path d="M337.6 77.5 A17.7 17.7 0 1 0 359 77.5" fill="none" stroke="#7a1519" stroke-width="6" stroke-linecap="round" opacity="0.6"/><line x1="348.4" y1="68.5" x2="348.4" y2="91" stroke="#7a1519" stroke-width="6" stroke-linecap="round" opacity="0.6"/>
<path d="M337.6 77.5 A17.7 17.7 0 1 0 359 77.5" fill="none" stroke="#fae6e4" stroke-width="3.4" stroke-linecap="round"/><line x1="348.4" y1="68.5" x2="348.4" y2="91" stroke="#fae6e4" stroke-width="3.4" stroke-linecap="round"/></g>
<g id="icon-vol"><rect x="309" y="445" width="76.5" height="138.5" fill="url(#gIcon)"/><rect x="309" y="445" width="76.5" height="2" fill="#d0d0d0"/><rect x="309" y="581.5" width="76.5" height="2" fill="#cfcfcf"/>
<g stroke="#2e2e2e" stroke-width="1.8" fill="none"><line x1="329" y1="469.5" x2="361" y2="469.5"/><line x1="345" y1="454" x2="345" y2="485"/><path d="M330.5 521.5 L361 506.5 L361 521.5 Z"/><line x1="329" y1="561" x2="361" y2="561"/></g></g>
<g id="icon-ch"><rect x="1204.4" y="444" width="76.3" height="141" fill="url(#gIcon)"/><rect x="1204.4" y="444" width="76.3" height="2.2" fill="#c2c2c2"/><rect x="1204.4" y="583" width="76.3" height="2" fill="#e6e6e6"/>
<g stroke="#2e2e2e" stroke-width="1.8" fill="none"><path d="M1224.2 473.5 L1243.8 454.5 L1263.4 473.5"/><path d="M1224.2 556.8 L1243.8 575.2 L1263.4 556.8"/></g>
<text x="1244.3" y="525.7" font-size="37.5" fill="#222" text-anchor="middle" textLength="21" lengthAdjust="spacingAndGlyphs" stroke="#dedede" stroke-width="0.5">P</text></g>
<g id="icon-mute"><rect x="1205" y="81.3" width="76.5" height="26.7" rx="2" fill="#cecece"/>
<g transform="translate(348.7 0.3)" stroke="#2a2a2a" stroke-width="1.5" fill="none" stroke-linejoin="round"><path d="M882.5 91 h4 l9.5 -5.5 v20 l-9.5 -5.5 h-4 z"/><line x1="884.5" y1="85.5" x2="905.5" y2="105"/><line x1="904" y1="86" x2="884.5" y2="105"/></g></g>
<g id="icon-back"><rect x="298" y="841.4" width="97.6" height="64" fill="#1c1c1e"/>
<text class="wht" x="312.3" y="900.6" font-size="28.5" textLength="68.5" lengthAdjust="spacingAndGlyphs" style="font-weight:normal;stroke:#fff;stroke-width:0.9px">BACK</text>
<g stroke="#fff" stroke-width="3" fill="none"><path d="M319 856.3 H331.5 a6.1 6.1 0 0 1 0 12.2 H315.5"/></g><path d="M312.2 855.6 L321.5 850 V861.2 Z" fill="#fff"/></g>
<g id="icon-exit"><rect x="1194" y="841.4" width="97.6" height="64" fill="#1c1c1e"/>
<text class="wht" x="1219.3" y="886.6" font-size="29" textLength="53.5" lengthAdjust="spacingAndGlyphs" style="font-weight:normal;stroke:#fff;stroke-width:1px">EXIT</text></g>
<g id="icon-pv"><rect x="248.6" y="1015.4" width="196.3" height="66.4" rx="14.5" fill="#fff" stroke="#2c2c2c" stroke-width="2"/>
<text transform="scale(0.857 1)" x="362.5 396 409.8" y="1064.2" font-size="45" fill="#2e94bf">P V</text></g>
<g id="icon-netflix"><rect x="248.6" y="1195.4" width="196.3" height="66.4" rx="14.5" fill="#fff" stroke="#2c2c2c" stroke-width="2"/>
<g filter="url(#fat)"><text transform="translate(264.6 1206.3) scale(0.555 1)" font-weight="bold" fill="#df2b1f" letter-spacing="7"><tspan font-size="63.0" dy="43.34">N</tspan><tspan font-size="60.1" dy="-1.97">E</tspan><tspan font-size="58.0" dy="-1.45">T</tspan><tspan font-size="57.0" dy="-0.71">F</tspan><tspan font-size="58.0" dy="0.71">L</tspan><tspan font-size="60.1" dy="1.45">I</tspan><tspan font-size="63.0" dy="1.97">X</tspan></text></g></g>
<g id="icon-fplay"><rect x="1144.6" y="1015.4" width="196.3" height="66.4" rx="14.5" fill="#fff" stroke="#2c2c2c" stroke-width="2"/>
<g stroke-width="10.5" stroke-linecap="round" stroke-linejoin="round" fill="none"><path d="M1203 1052.5 V1069" stroke="url(#gF2)"/><path d="M1203 1052.5 H1224" stroke="url(#gF3)"/><path d="M1232 1029.5 H1202 L1225 1051" stroke="url(#gF1)"/></g>
<text x="1235.3" y="1066.3" font-size="24.5" fill="url(#gPlay)" stroke="url(#gPlay)" stroke-width="0.3" textLength="54" lengthAdjust="spacingAndGlyphs" style="font-family:'DejaVu Sans','Liberation Sans',sans-serif;font-weight:200">Play</text></g>
</g>

</svg>
</body>
</html>
